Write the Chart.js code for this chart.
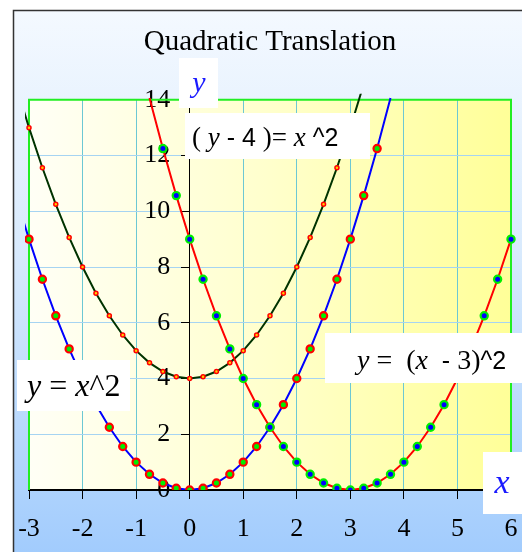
<!DOCTYPE html>
<html>
<head>
<meta charset="utf-8">
<script src="https://cdn.jsdelivr.net/npm/chart.js@4.4.1/dist/chart.umd.min.js"></script>
<style>
  html, body { margin: 0; padding: 0; background: #ffffff; }
  #wrap { width: 522px; height: 552px; }
</style>
</head>
<body>
<div id="wrap"><canvas id="chart" width="522" height="552"></canvas></div>
<script>
// Axis ticks
const xTickValues = [-3, -2, -1, 0, 1, 2, 3, 4, 5, 6];
const yTickValues = [0, 2, 4, 6, 8, 10, 12, 14];

// y = x^2
const baseX = [-3.25, -3, -2.75, -2.5, -2.25, -2, -1.75, -1.5, -1.25, -1, -0.75, -0.5, -0.25, 0,
               0.25, 0.5, 0.75, 1, 1.25, 1.5, 1.75, 2, 2.25, 2.5, 2.75, 3, 3.25, 3.5, 3.75];
const baseY = [10.5625, 9, 7.5625, 6.25, 5.0625, 4, 3.0625, 2.25, 1.5625, 1, 0.5625, 0.25, 0.0625, 0,
               0.0625, 0.25, 0.5625, 1, 1.5625, 2.25, 3.0625, 4, 5.0625, 6.25, 7.5625, 9, 10.5625, 12.25, 14.0625];

// y = (x - 3)^2
const shiftX = [-0.75, -0.5, -0.25, 0, 0.25, 0.5, 0.75, 1, 1.25, 1.5, 1.75, 2, 2.25, 2.5, 2.75, 3,
                3.25, 3.5, 3.75, 4, 4.25, 4.5, 4.75, 5, 5.25, 5.5, 5.75, 6, 6.25];
const shiftY = [14.0625, 12.25, 10.5625, 9, 7.5625, 6.25, 5.0625, 4, 3.0625, 2.25, 1.5625, 1, 0.5625, 0.25, 0.0625, 0,
                0.0625, 0.25, 0.5625, 1, 1.5625, 2.25, 3.0625, 4, 5.0625, 6.25, 7.5625, 9, 10.5625];

// (y - 4) = x^2
const liftX = [-3.25, -3, -2.75, -2.5, -2.25, -2, -1.75, -1.5, -1.25, -1, -0.75, -0.5, -0.25, 0,
               0.25, 0.5, 0.75, 1, 1.25, 1.5, 1.75, 2, 2.25, 2.5, 2.75, 3, 3.25];
const liftY = [14.5625, 13, 11.5625, 10.25, 9.0625, 8, 7.0625, 6.25, 5.5625, 5, 4.5625, 4.25, 4.0625, 4,
               4.0625, 4.25, 4.5625, 5, 5.5625, 6.25, 7.0625, 8, 9.0625, 10.25, 11.5625, 13, 14.5625];

const X_MIN = -3, X_MAX = 6, Y_MIN = 0, Y_MAX = 14;

const pairs = (xs, ys) => xs.map((x, i) => ({ x: x, y: ys[i] }));

// markers only inside the axis ranges; the line itself runs a little past the frame
const markerRadius = r => ctx => {
  const p = ctx.raw;
  return (p && p.x >= X_MIN && p.x <= X_MAX && p.y >= Y_MIN && p.y <= Y_MAX) ? r : 0;
};

const SERIF = '"Liberation Serif", "Times New Roman", serif';
const SANS = '"Liberation Sans", Arial, sans-serif';

// backgrounds: outer panel, plot area
const backdrop = {
  id: 'backdrop',
  beforeDraw(chart) {
    const { ctx, chartArea: a, width, height } = chart;
    ctx.save();
    ctx.fillStyle = '#ffffff';
    ctx.fillRect(0, 0, width, height);
    const g = ctx.createLinearGradient(0, 10, 0, height);
    g.addColorStop(0, '#f4f9ff');
    g.addColorStop(0.45, '#d8eafd');
    g.addColorStop(1, '#a2ccfd');
    ctx.fillStyle = g;
    ctx.fillRect(13, 10, width - 13, height - 10);
    ctx.strokeStyle = '#333333';
    ctx.lineWidth = 1.5;
    ctx.beginPath();
    ctx.moveTo(13.5, height);
    ctx.lineTo(13.5, 10.5);
    ctx.lineTo(width, 10.5);
    ctx.stroke();

    const p = ctx.createLinearGradient(a.left, 0, a.right, 0);
    p.addColorStop(0, '#fffff6');
    p.addColorStop(0.5, '#ffffcc');
    p.addColorStop(1, '#ffff98');
    ctx.fillStyle = p;
    ctx.fillRect(a.left, a.top, a.right - a.left, a.bottom - a.top);
    ctx.restore();
  },
  beforeDatasetsDraw(chart) {
    const { ctx, chartArea: a } = chart;
    ctx.save();
    ctx.strokeStyle = '#22ee22';
    ctx.lineWidth = 2;
    ctx.beginPath();
    ctx.moveTo(a.left, a.bottom);
    ctx.lineTo(a.left, a.top);
    ctx.lineTo(a.right, a.top);
    ctx.lineTo(a.right, a.bottom);
    ctx.stroke();
    ctx.restore();
  }
};

// equation labels and axis names in white boxes
function runText(ctx, parts, x, y) {
  let cx = x;
  parts.forEach(([text, font, color]) => {
    ctx.font = font;
    ctx.fillStyle = color || '#000000';
    ctx.fillText(text, cx, y);
    cx += ctx.measureText(text).width;
  });
}

const annotations = {
  id: 'annotations',
  afterDatasetsDraw(chart) {
    const { ctx } = chart;
    ctx.save();
    ctx.textBaseline = 'alphabetic';
    ctx.textAlign = 'left';
    const box = (x, y, w, h) => { ctx.fillStyle = '#ffffff'; ctx.fillRect(x, y, w, h); };

    // (y - 4)= x^2
    box(185, 113, 185, 46);
    runText(ctx, [
      ['(', '27px ' + SERIF],
      [' ', '27px ' + SERIF],
      ['y', 'italic 27px ' + SERIF],
      [' - 4 ', '25px ' + SANS],
      [')', '27px ' + SERIF],
      ['= ', '27px ' + SERIF],
      ['x', 'italic 27px ' + SERIF],
      [' ^2', '25px ' + SANS]
    ], 192, 146);

    // y = x^2
    box(17, 360, 113, 51);
    runText(ctx, [
      ['y', 'italic 32px ' + SERIF],
      [' = ', '32px ' + SERIF],
      ['x', 'italic 32px ' + SERIF],
      ['^2', '32px ' + SERIF]
    ], 27, 396);

    // y = (x - 3)^2
    box(325, 333, 197, 50);
    runText(ctx, [
      ['y', 'italic 28px ' + SERIF],
      [' =  (', '28px ' + SERIF],
      ['x', 'italic 28px ' + SERIF],
      ['  - ', '25px ' + SANS],
      ['3)', '28px ' + SERIF],
      ['^2', '25px ' + SANS]
    ], 357, 369);

    // axis names
    box(179, 58, 39, 50);
    box(483, 452, 39, 62);
    ctx.textAlign = 'center';
    ctx.textBaseline = 'middle';
    ctx.fillStyle = '#1a1aff';
    ctx.font = 'italic 30px ' + SERIF;
    ctx.fillText('y', 199, 84);
    ctx.font = 'italic 34px ' + SERIF;
    ctx.fillText('x', 502, 484);
    ctx.restore();
  }
};

const edgeClip = { left: 4, top: 6, right: 8, bottom: 0 };

// keep the crossing axes from reserving room around the plot
const noRoomX = s => { s.height = 0; s.paddingLeft = 0; s.paddingRight = 0; s.paddingTop = 0; s.paddingBottom = 0; };
const noRoomY = s => { s.width = 0; s.paddingLeft = 0; s.paddingRight = 0; s.paddingTop = 0; s.paddingBottom = 0; };

new Chart(document.getElementById('chart'), {
  type: 'line',
  data: {
    datasets: [
      {
        label: 'y = (x - 3)^2',
        data: pairs(shiftX, shiftY),
        borderColor: '#ff0000',
        borderWidth: 2,
        pointBackgroundColor: '#0000ff',
        pointBorderColor: '#00ee00',
        pointBorderWidth: 2.2,
        pointRadius: markerRadius(3.6),
        tension: 0,
        clip: edgeClip,
        order: 0
      },
      {
        label: 'y = x^2',
        data: pairs(baseX, baseY),
        borderColor: '#0000ff',
        borderWidth: 2,
        pointBackgroundColor: '#00ee00',
        pointBorderColor: '#ff0000',
        pointBorderWidth: 2.2,
        pointRadius: markerRadius(3.6),
        tension: 0,
        clip: edgeClip,
        order: 1
      },
      {
        label: '(y - 4) = x^2',
        data: pairs(liftX, liftY),
        borderColor: '#003300',
        borderWidth: 2,
        pointBackgroundColor: '#ffcc00',
        pointBorderColor: '#ff0000',
        pointBorderWidth: 1.5,
        pointRadius: markerRadius(2),
        tension: 0,
        clip: edgeClip,
        order: 2
      }
    ]
  },
  options: {
    responsive: false,
    animation: false,
    events: [],
    layout: { padding: { left: 29, right: 11, top: 0, bottom: 62 } },
    plugins: {
      legend: { display: false },
      tooltip: { enabled: false },
      title: {
        display: true,
        text: 'Quadratic Translation',
        color: '#000000',
        font: { family: SERIF, size: 29, weight: 'normal' },
        padding: { top: 25, bottom: 40 }
      }
    },
    scales: {
      x: {
        type: 'linear',
        position: { y: 0 },
        min: X_MIN,
        max: X_MAX,
        afterFit: noRoomX,
        afterBuildTicks: s => { s.ticks = xTickValues.map(v => ({ value: v })); },
        grid: { color: '#6cc8d4', lineWidth: 1, tickColor: '#000000', tickLength: 8 },
        border: { display: true, color: '#000000', width: 2 },
        ticks: { autoSkip: false, maxRotation: 0, color: '#000000', padding: 16,
                 font: { family: SERIF, size: 26 } }
      },
      y: {
        type: 'linear',
        position: { x: 0 },
        min: Y_MIN,
        max: Y_MAX,
        afterFit: noRoomY,
        afterBuildTicks: s => { s.ticks = yTickValues.map(v => ({ value: v })); },
        grid: { color: '#a6d4f2', lineWidth: 1, tickColor: '#000000', tickLength: 8 },
        border: { display: true, color: '#000000', width: 1 },
        ticks: { autoSkip: false, color: '#000000',
                 font: { family: SERIF, size: 26 },
                 callback: v => String(v) + '   ' }
      }
    }
  },
  plugins: [backdrop, annotations]
});
</script>
</body>
</html>
